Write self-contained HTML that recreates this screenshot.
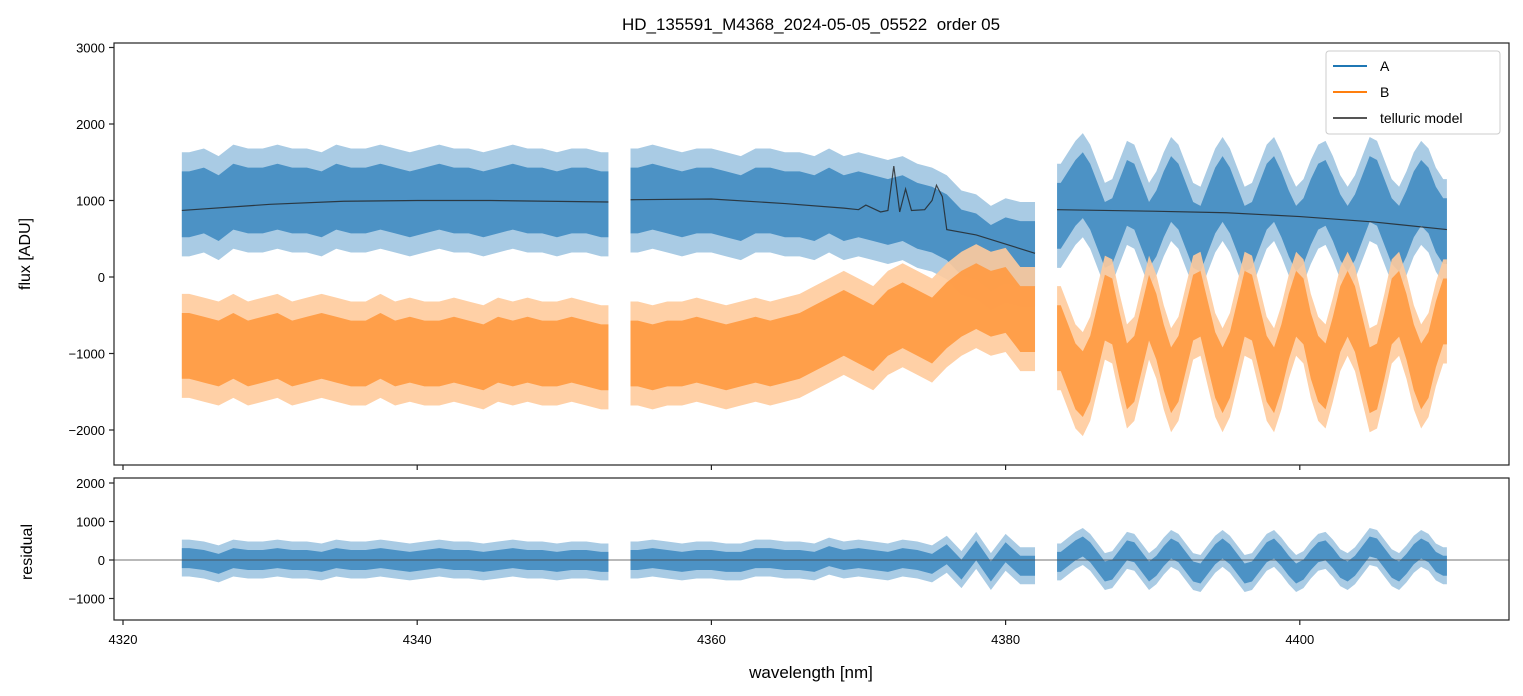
<!DOCTYPE html>
<html><head><meta charset="utf-8"><style>
body{margin:0;background:#fff}
svg{display:block;font-family:"Liberation Sans","DejaVu Sans",sans-serif}
</style></head><body>
<svg id="chart" width="1523" height="696" viewBox="0 0 1523 696">
<text x="811" y="30" font-size="17" text-anchor="middle" style="white-space:pre">HD_135591_M4368_2024-05-05_05522  order 05</text>
<g id="topPanel"></g>
<g id="botPanel"></g>
<text x="30" y="254" font-size="16" text-anchor="middle" transform="rotate(-90 30 254)">flux [ADU]</text>
<text x="32" y="552" font-size="16" text-anchor="middle" transform="rotate(-90 32 552)">residual</text>
<text x="811" y="678" font-size="17" text-anchor="middle">wavelength [nm]</text>
</svg>
<script>
// ---- data (bin centres in nm, values in ADU) ----
const seg1Wl=[4324.5,4325.5,4326.5,4327.5,4328.5,4329.5,4330.5,4331.5,4332.5,4333.5,4334.5,4335.5,4336.5,4337.5,4338.5,4339.5,4340.5,4341.5,4342.5,4343.5,4344.5,4345.5,4346.5,4347.5,4348.5,4349.5,4350.5,4351.5,4352.5];
const seg1A=[950,1000,900,1050,1000,1000,1050,1000,1000,950,1050,1000,1000,1050,1000,950,1000,1050,1000,1000,950,1000,1050,1000,1000,950,1000,1000,950];
const seg1B=[-900,-950,-1000,-900,-1000,-950,-900,-1000,-950,-900,-950,-1000,-1000,-900,-1000,-950,-1000,-1000,-950,-1000,-1050,-950,-1000,-950,-1000,-1000,-950,-1000,-1050];
const seg1R=[50,0,-100,50,0,0,50,0,0,-50,50,0,0,50,0,-50,0,50,0,0,-50,0,50,0,0,-50,0,0,-50];
const seg2Wl=[4355,4356,4357,4358,4359,4360,4361,4362,4363,4364,4365,4366,4367,4368,4369,4370,4371,4372,4373,4374,4375,4376,4377,4378,4379,4380,4381];
const seg2A=[1000,1050,1000,950,1000,1000,950,900,1000,1000,950,950,900,1000,900,950,900,850,900,800,750,650,450,400,250,350,300];
const seg2B=[-1000,-1050,-1000,-1000,-950,-1000,-1050,-1000,-950,-1000,-950,-900,-800,-700,-600,-700,-800,-600,-500,-600,-700,-500,-350,-250,-350,-300,-550];
const seg2R=[0,50,0,-50,0,0,-50,-50,50,50,0,0,-50,100,0,50,0,-50,50,0,-100,150,-250,250,-300,200,-150];
const seg3Wl=[4383.75,4384.25,4384.75,4385.25,4385.75,4386.25,4386.75,4387.25,4387.75,4388.25,4388.75,4389.25,4389.75,4390.25,4390.75,4391.25,4391.75,4392.25,4392.75,4393.25,4393.75,4394.25,4394.75,4395.25,4395.75,4396.25,4396.75,4397.25,4397.75,4398.25,4398.75,4399.25,4399.75,4400.25,4400.75,4401.25,4401.75,4402.25,4402.75,4403.25,4403.75,4404.25,4404.75,4405.25,4405.75,4406.25,4406.75,4407.25,4407.75,4408.25,4408.75,4409.25,4409.75];
const seg3A=[800,950,1100,1200,1050,800,550,600,850,1100,1050,800,550,700,950,1150,1050,800,550,500,750,1000,1150,1000,750,500,550,800,1050,1150,950,700,500,600,850,1050,1100,900,650,500,650,900,1150,1100,850,600,500,700,950,1100,1000,750,600];
const seg3B=[-800,-1050,-1300,-1400,-1200,-800,-400,-450,-900,-1300,-1200,-800,-400,-650,-1050,-1350,-1200,-800,-400,-350,-750,-1150,-1350,-1150,-750,-350,-400,-800,-1200,-1350,-1050,-650,-350,-450,-900,-1200,-1300,-950,-550,-350,-550,-950,-1350,-1300,-900,-450,-350,-650,-1050,-1300,-1150,-750,-450];
const seg3R=[-50,100,250,350,200,-50,-300,-250,0,250,200,-50,-300,-150,100,300,200,-50,-300,-350,-100,150,300,150,-100,-350,-300,-50,200,300,100,-150,-350,-250,0,200,250,50,-200,-300,-150,100,350,300,50,-200,-300,-100,150,300,200,-50,-150];
const spreadFlux=[430,680];
const spreadResid=[260,480];
const modelSegs=[
 {wl:[4324,4330,4335,4340,4345,4353],v:[870,950,990,1000,1000,980]},
 {wl:[4354.5,4360,4365,4369,4370,4370.5,4371.5,4372,4372.4,4372.8,4373.2,4373.6,4374.5,4375,4375.3,4375.7,4376,4378,4382],v:[1010,1020,960,900,880,940,850,870,1450,850,1150,870,880,1000,1200,1050,620,550,310]},
 {wl:[4383.5,4390,4395,4400,4405,4410],v:[880,860,840,790,720,620]}
];
const xTicks=[4320,4340,4360,4380,4400];
const yTicksTop=[-2000,-1000,0,1000,2000,3000];
const yTicksBot=[-1000,0,1000,2000];
// ---- scales ----
const NS='http://www.w3.org/2000/svg';
const X=w=>123+(w-4320)*14.71;
const YT=v=>277-v*0.0765;
const YB=v=>560-v*0.0385;
function mk(tag,attrs,parent){const e=document.createElementNS(NS,tag);for(const k in attrs)e.setAttribute(k,attrs[k]);parent.appendChild(e);return e;}
const topG=document.getElementById('topPanel'),botG=document.getElementById('botPanel');
const defs=mk('defs',{},document.getElementById('chart'));
const c1=mk('clipPath',{id:'ct'},defs);mk('rect',{x:114,y:43,width:1395,height:422},c1);
const c2=mk('clipPath',{id:'cb'},defs);mk('rect',{x:114,y:478,width:1395,height:142},c2);
function band(wl,vals,half,Y,color,op,parent,name,edge){
  const pts=[];
  const xs=wl.map(X);
  const x0=X(edge[0]),x1=X(edge[1]);
  pts.push([x0,Y(vals[0]+half)]);
  wl.forEach((w,i)=>pts.push([xs[i],Y(vals[i]+half)]));
  pts.push([x1,Y(vals[vals.length-1]+half)]);
  pts.push([x1,Y(vals[vals.length-1]-half)]);
  for(let i=wl.length-1;i>=0;i--)pts.push([xs[i],Y(vals[i]-half)]);
  pts.push([x0,Y(vals[0]-half)]);
  const p=mk('polygon',{points:pts.map(p=>p.join(',')).join(' '),fill:color,'fill-opacity':op},parent);
  
  
}
const segs=[[seg1Wl,seg1A,seg1B,seg1R,[4324,4353]],[seg2Wl,seg2A,seg2B,seg2R,[4354.5,4382]],[seg3Wl,seg3A,seg3B,seg3R,[4383.5,4410]]];
const gT=mk('g',{'clip-path':'url(#ct)'},topG);
const gB=mk('g',{'clip-path':'url(#cb)'},botG);
segs.forEach((s,i)=>{
  band(s[0],s[1],spreadFlux[1],YT,'#a9cbe4',1,gT,'series-a-outer-'+(i+1),s[4]);
  band(s[0],s[1],spreadFlux[0],YT,'#4c92c5',1,gT,'series-a-'+(i+1),s[4]);
});
segs.forEach((s,i)=>{
  band(s[0],s[2],spreadFlux[1],YT,'#ffcb9c',0.9,gT,'series-b-outer-'+(i+1),s[4]);
  band(s[0],s[2],spreadFlux[0],YT,'#ff9a42',0.92,gT,'series-b-'+(i+1),s[4]);
  band(s[0],s[3],spreadResid[1],YB,'#a9cbe4',1,gB,'residual-outer-'+(i+1),s[4]);
  band(s[0],s[3],spreadResid[0],YB,'#4c92c5',1,gB,'residual-'+(i+1),s[4]);
});
modelSegs.forEach((m,i)=>{
  const p=mk('polyline',{points:m.wl.map((w,j)=>X(w)+','+YT(m.v[j])).join(' '),fill:'none',stroke:'#222','stroke-opacity':0.8,'stroke-width':1.2},gT);
  
  
});
const zl=mk('line',{x1:114,x2:1509,y1:YB(0),y2:YB(0),stroke:'#444','stroke-width':0.7},botG);


mk('rect',{x:114,y:43,width:1395,height:422,fill:'none',stroke:'#222','stroke-width':1.2},topG);
mk('rect',{x:114,y:478,width:1395,height:142,fill:'none',stroke:'#222','stroke-width':1.2},botG);
xTicks.forEach(t=>{
  mk('line',{x1:X(t),x2:X(t),y1:465,y2:470,stroke:'#222','stroke-width':1.2},topG);
  mk('line',{x1:X(t),x2:X(t),y1:620,y2:625,stroke:'#222','stroke-width':1.2},botG);
  const tx=mk('text',{x:X(t),y:644,'font-size':13,'text-anchor':'middle'},botG);tx.textContent=t;
  
  
});
const fmt=v=>v<0?'\u2212'+Math.abs(v):String(v);
yTicksTop.forEach(t=>{
  mk('line',{x1:109,x2:114,y1:YT(t),y2:YT(t),stroke:'#222','stroke-width':1.2},topG);
  const tx=mk('text',{x:105,y:YT(t)+5,'font-size':13,'text-anchor':'end'},topG);tx.textContent=fmt(t);
  
  
});
yTicksBot.forEach(t=>{
  mk('line',{x1:109,x2:114,y1:YB(t),y2:YB(t),stroke:'#222','stroke-width':1.2},botG);
  const tx=mk('text',{x:105,y:YB(t)+5,'font-size':13,'text-anchor':'end'},botG);tx.textContent=fmt(t);
  
  
});
const lg=mk('g',{},topG);


mk('rect',{x:1326,y:51,width:174,height:83,rx:3,fill:'#fff','fill-opacity':0.85,stroke:'#ccc'},lg);
[['A','#1f77b4'],['B','#ff7f0e'],['telluric model','#555']].forEach((e,i)=>{
  const y=66+i*26;
  mk('line',{x1:1333,x2:1367,y1:y,y2:y,stroke:e[1],'stroke-width':2},lg);
  const t=mk('text',{x:1380,y:y+5,'font-size':14},lg);t.textContent=e[0];
  
  
});
</script>
</body></html>
